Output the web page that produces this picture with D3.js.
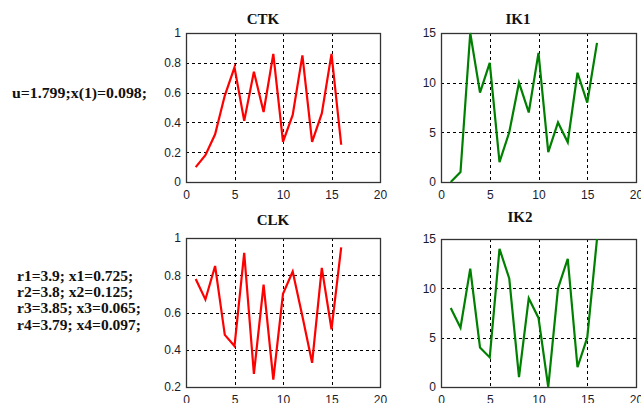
<!DOCTYPE html>
<html>
<head>
<meta charset="utf-8">
<script src="https://cdn.jsdelivr.net/npm/d3@7"></script>
<style>
  html, body { margin: 0; padding: 0; background: #fff; }
  svg { display: block; }
</style>
</head>
<body>
<svg id="chart" width="641" height="403"></svg>
<script>
// ---- data ----
const steps = [1,2,3,4,5,6,7,8,9,10,11,12,13,14,15,16];
const ctkValues = [0.10,0.18,0.32,0.58,0.77,0.41,0.74,0.47,0.86,0.27,0.45,0.85,0.27,0.46,0.86,0.25];
const ik1Values = [0,1,15,9,12,2,5,10,7,13,3,6,4,11,8,14];
const clkValues = [0.78,0.67,0.85,0.48,0.42,0.92,0.27,0.75,0.24,0.70,0.82,0.58,0.33,0.84,0.51,0.95];
const ik2Values = [8,6,12,4,3,14,11,1,9,7,0,10,13,2,5,15];
const xTicks = [0,5,10,15,20];
const ctkTicks = [0,0.2,0.4,0.6,0.8,1];
const clkTicks = [0.2,0.4,0.6,0.8,1];
const ikTicks = [0,5,10,15];
const titles = ["CTK","IK1","CLK","IK2"];
const noteTop = ["u=1.799;x(1)=0.098;"];
const noteBottom = ["r1=3.9; x1=0.725;","r2=3.8; x2=0.125;","r3=3.85; x3=0.065;","r4=3.79; x4=0.097;"];

const svg = d3.select("#chart");

const panels = [
  {title: titles[0], values: ctkValues, yDomain:[0,1], yTicks: ctkTicks, color:"#ff0000",
   x0:186, x1:380, y0:33, y1:182, tx:263, ty:24},
  {title: titles[1], values: ik1Values, yDomain:[0,15], yTicks: ikTicks, color:"#008000",
   x0:441, x1:636, y0:33, y1:182, tx:518, ty:24},
  {title: titles[2], values: clkValues, yDomain:[0.2,1], yTicks: clkTicks, color:"#ff0000",
   x0:186, x1:380, y0:238, y1:387, tx:273, ty:225},
  {title: titles[3], values: ik2Values, yDomain:[0,15], yTicks: ikTicks, color:"#008000",
   x0:441, x1:636, y0:239, y1:387, tx:520, ty:222}
];

const fmt = d => d3.format("~g")(d);

panels.forEach(p => {
  const x = d3.scaleLinear().domain([0,20]).range([p.x0, p.x1]);
  const y = d3.scaleLinear().domain(p.yDomain).range([p.y1, p.y0]);
  const g = svg.append("g");

  // grid
  g.append("g").selectAll("line.vg")
    .data(xTicks.filter(t => t > 0 && t < 20))
    .join("line")
    .attr("x1", d => Math.round(x(d)) + 0.5).attr("x2", d => Math.round(x(d)) + 0.5)
    .attr("y1", p.y0).attr("y2", p.y1)
    .attr("stroke", "#000").attr("stroke-width", 1).attr("stroke-dasharray", "3,3");
  g.append("g").selectAll("line.hg")
    .data(p.yTicks.filter(t => t > p.yDomain[0] && t < p.yDomain[1]))
    .join("line")
    .attr("x1", p.x0).attr("x2", p.x1)
    .attr("y1", d => Math.round(y(d)) + 0.5).attr("y2", d => Math.round(y(d)) + 0.5)
    .attr("stroke", "#000").attr("stroke-width", 1).attr("stroke-dasharray", "3,3");

  // axes (labels only, frame drawn separately)
  const xAxis = d3.axisBottom(x).tickValues(xTicks).tickSize(0).tickPadding(8).tickFormat(fmt);
  const yAxis = d3.axisLeft(y).tickValues(p.yTicks).tickSize(0).tickPadding(5).tickFormat(fmt);
  const gx = g.append("g").attr("transform", `translate(0,${p.y1})`).call(xAxis);
  const gy = g.append("g").attr("transform", `translate(${p.x0},0)`).call(yAxis);
  [gx, gy].forEach(a => {
    a.select(".domain").remove();
    a.selectAll("text").attr("font-family", "Liberation Sans, Arial, sans-serif")
      .attr("font-size", 12).attr("fill", "#1a1a2a");
  });

  // frame
  g.append("rect")
    .attr("x", p.x0 + 0.5).attr("y", p.y0 + 0.5)
    .attr("width", p.x1 - p.x0).attr("height", p.y1 - p.y0)
    .attr("fill", "none").attr("stroke", "#333").attr("stroke-width", 1.3);

  // line
  const line = d3.line().x((d,i) => x(steps[i])).y(d => y(d));
  g.append("path").datum(p.values)
    .attr("d", line).attr("fill", "none")
    .attr("stroke", p.color).attr("stroke-width", 2.2)
    .attr("stroke-linejoin", "miter");

  // title
  g.append("text").attr("x", p.tx).attr("y", p.ty)
    .attr("text-anchor", "middle")
    .attr("font-family", "Liberation Serif, Times New Roman, serif")
    .attr("font-weight", "bold").attr("font-size", 15)
    .attr("fill", "#111").text(p.title);
});

// notes
svg.append("g").selectAll("text").data(noteTop).join("text")
  .attr("x", 12).attr("y", 98)
  .attr("font-family", "Liberation Serif, Times New Roman, serif")
  .attr("font-weight", "bold").attr("font-size", 15.5).attr("fill", "#111")
  .attr("textLength", 135).attr("lengthAdjust", "spacingAndGlyphs")
  .text(d => d);

const bottomWidths = [118, 110, 124, 117];
svg.append("g").selectAll("text").data(noteBottom).join("text")
  .attr("x", 17).attr("y", (d,i) => 281 + i * 16.2)
  .attr("font-family", "Liberation Serif, Times New Roman, serif")
  .attr("font-weight", "bold").attr("font-size", 15.5).attr("fill", "#111")
  .text(d => d);
</script>
</body>
</html>
